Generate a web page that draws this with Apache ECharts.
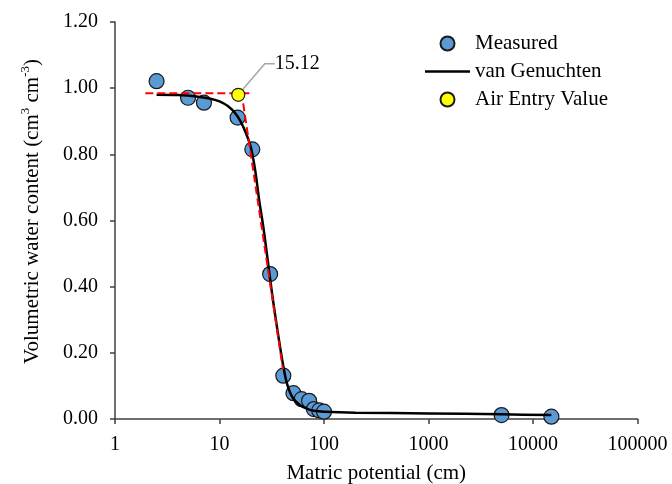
<!DOCTYPE html>
<html>
<head>
<meta charset="utf-8">
<script src="https://cdn.jsdelivr.net/npm/echarts@6/dist/echarts.min.js"></script>
<style>html,body{margin:0;padding:0;background:#fff}#c{width:672px;height:484px}</style>
</head>
<body>
<div id="c"></div>
<script>
// Measured points (matric potential cm, water content)
const measuredX = [2.5, 5, 7.1, 14.9, 20.6, 30.5, 40.8, 51, 61, 72, 80, 90, 100, 5000, 15000];
const measuredY = [1.021, 0.971, 0.956, 0.911, 0.815, 0.438, 0.131, 0.078, 0.06, 0.055, 0.03, 0.026, 0.022, 0.012, 0.007];
// van Genuchten fitted curve
const vgX = [2.5, 4, 6, 8, 10, 12, 14, 16, 18, 20, 22, 24, 26, 28, 30, 33, 36, 40, 44, 50, 60, 70, 80, 100, 200, 1000, 5000, 15000];
const vgY = [0.980, 0.979, 0.975, 0.969, 0.960, 0.946, 0.926, 0.898, 0.862, 0.820, 0.750, 0.660, 0.590, 0.515, 0.440, 0.345, 0.265, 0.175, 0.110, 0.065, 0.040, 0.030, 0.025, 0.022, 0.019, 0.017, 0.014, 0.012];
// Air entry value
const aevX = [15.12];
const aevY = [0.98];
const aevLabel = '15.12';
// red dashed construction lines
const horizX = [1.95, 20.3];
const horizY = [0.985, 0.985];
const tangX = [16.2, 40.5];
const tangY = [0.99, 0.15];
const xTicks = [1, 10, 100, 1000, 10000, 100000];

const zip = (a, b) => a.map((v, i) => [v, b[i]]);
const font = 'Liberation Serif';
const fs = 21;     // titles / legend
const tfs = 20;    // tick labels
const axisColor = '#404040';

const chart = echarts.init(document.getElementById('c'), null, {renderer: 'canvas'});
chart.setOption({
  animation: false,
  grid: {left: 115, right: 34.5, top: 22, bottom: 65, containLabel: false, outerBoundsMode: 'none'},
  legend: {
    orient: 'vertical', left: 420, top: 28, itemGap: 7, itemWidth: 45, itemHeight: 14,
    textStyle: {fontFamily: font, fontSize: fs, color: '#000', lineHeight: 19},
    data: [
      {name: 'Measured'},
      {name: 'van Genuchten', icon: 'path://M0,0 L45,0 L45,2.6 L0,2.6 Z'},
      {name: 'Air Entry Value'}
    ]
  },
  xAxis: {
    type: 'log', logBase: 10, min: xTicks[0], max: xTicks[xTicks.length - 1],
    name: 'Matric potential (cm)', nameLocation: 'middle', nameGap: 44,
    nameTextStyle: {fontFamily: font, fontSize: fs, color: '#000'},
    axisLine: {lineStyle: {color: axisColor, width: 1.5}},
    axisTick: {inside: false, length: 5, lineStyle: {color: axisColor, width: 1.5}},
    minorTick: {show: false},
    splitLine: {show: false},
    axisLabel: {fontFamily: font, fontSize: tfs, color: '#000', margin: 16,
      formatter: v => String(Math.round(v))}
  },
  yAxis: {
    type: 'value', min: 0, max: 1.2, interval: 0.2,
    name: '{a|Volumetric water content (cm}{s|3}{a| cm}{s|-3}{a|)}',
    nameLocation: 'middle', nameGap: 72, nameRotate: 90,
    nameTextStyle: {fontFamily: font, fontSize: fs, color: '#000', padding: [0, 0, 0, 18],
      rich: {
        a: {fontFamily: font, fontSize: fs, color: '#000', lineHeight: 24, verticalAlign: 'bottom'},
        s: {fontFamily: font, fontSize: 13, color: '#000', lineHeight: 24, verticalAlign: 'top'}
      }},
    axisLine: {show: true, lineStyle: {color: axisColor, width: 1.5}},
    axisTick: {show: true, inside: false, length: 5, lineStyle: {color: axisColor, width: 1.5}},
    splitLine: {show: false},
    axisLabel: {fontFamily: font, fontSize: tfs, color: '#000', margin: 17,
      formatter: v => v.toFixed(2)}
  },
  series: [
    {
      name: 'Measured', type: 'scatter', data: zip(measuredX, measuredY),
      symbol: 'circle', symbolSize: 15, z: 2,
      itemStyle: {color: '#5B9BD5', borderColor: '#1a1a1a', borderWidth: 1.2, opacity: 1}
    },
    {
      name: 'van Genuchten', type: 'line', data: zip(vgX, vgY), symbol: 'none',
      smooth: 0.3, z: 3, lineStyle: {color: '#000', width: 2.5}, itemStyle: {color: '#000'}
    },
    {
      name: 'horiz', type: 'line', data: zip(horizX, horizY), symbol: 'none', z: 4,
      lineStyle: {color: '#ff0000', width: 2, type: [8, 4]}, silent: true
    },
    {
      name: 'tangent', type: 'line', data: zip(tangX, tangY), symbol: 'none', z: 4,
      lineStyle: {color: '#ff0000', width: 2, type: [8, 4]}, silent: true
    },
    {
      name: 'Air Entry Value', type: 'scatter', data: zip(aevX, aevY),
      symbol: 'circle', symbolSize: 13, z: 5,
      itemStyle: {color: '#ffff00', borderColor: '#1a1a1a', borderWidth: 1.2, opacity: 1},
      label: {show: true, formatter: aevLabel, position: 'inside', fontFamily: font, fontSize: tfs, color: '#000'},
      labelLayout: {dx: 59, dy: -31},
      labelLine: {show: true, length2: 10, lineStyle: {color: '#a6a6a6', width: 1.5}}
    }
  ]
});
</script>
</body>
</html>
